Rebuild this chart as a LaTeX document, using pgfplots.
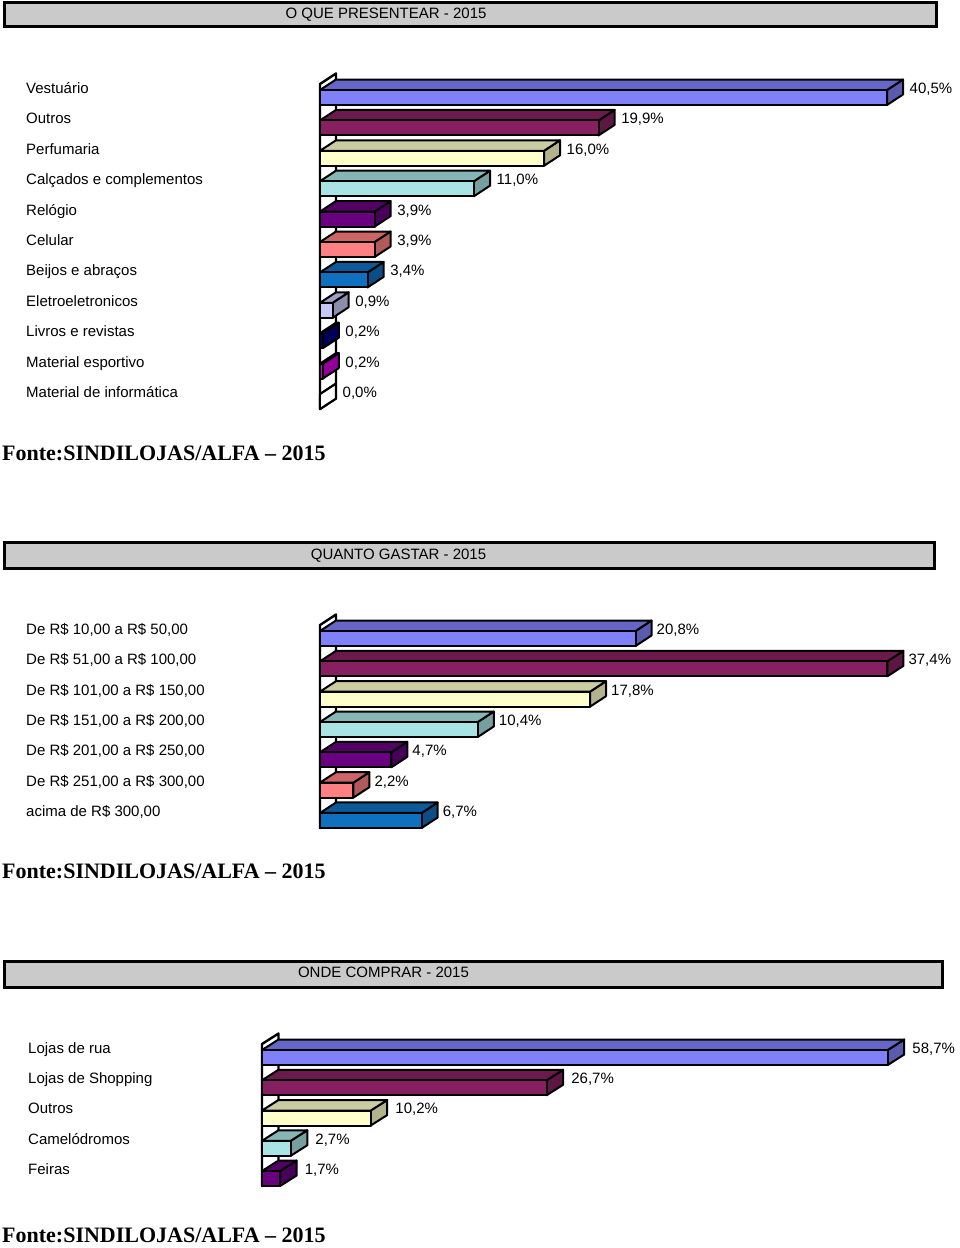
\documentclass[border=0pt]{standalone}
\usepackage{fontspec}
\setmainfont{Liberation Sans}
\newfontfamily\fontefont{Liberation Serif}
\usepackage{pgfplots}
\usepackage{pgfplotstable}
\pgfplotsset{compat=1.18}

\definecolor{titlegray}{HTML}{CACACA}
\definecolor{c0}{HTML}{8080F8}
\definecolor{c1}{HTML}{872060}
\definecolor{c2}{HTML}{FFFFCC}
\definecolor{c3}{HTML}{A8E4E4}
\definecolor{c4}{HTML}{680080}
\definecolor{c5}{HTML}{FF8080}
\definecolor{c6}{HTML}{1070C0}
\definecolor{c7}{HTML}{C8C8F5}
\definecolor{c8}{HTML}{000080}
\definecolor{c9}{HTML}{D000D8}
\definecolor{c10}{HTML}{FFFFFF}
\colorlet{t0}{c0!80!black}\colorlet{r0}{c0!70!black}
\colorlet{t1}{c1!80!black}\colorlet{r1}{c1!70!black}
\colorlet{t2}{c2!80!black}\colorlet{r2}{c2!70!black}
\colorlet{t3}{c3!80!black}\colorlet{r3}{c3!70!black}
\colorlet{t4}{c4!80!black}\colorlet{r4}{c4!70!black}
\colorlet{t5}{c5!80!black}\colorlet{r5}{c5!70!black}
\colorlet{t6}{c6!80!black}\colorlet{r6}{c6!70!black}
\colorlet{t7}{c7!80!black}\colorlet{r7}{c7!70!black}
\colorlet{t8}{c8!80!black}\colorlet{r8}{c8!70!black}
\colorlet{t9}{c9!80!black}\colorlet{r9}{c9!70!black}
\colorlet{t10}{white}\colorlet{r10}{white}

\newcommand\lbl{\fontsize{15}{18}\selectfont}

% data
\pgfplotstableread{
i v
0 40.5
1 19.9
2 16.0
3 11.0
4 3.9
5 3.9
6 3.4
7 0.9
8 0.2
9 0.2
10 0.0
}\tA
\pgfplotstableread{
i v
0 20.8
1 37.4
2 17.8
3 10.4
4 4.7
5 2.2
6 6.7
}\tB
\pgfplotstableread{
i v
0 58.7
1 26.7
2 10.2
3 2.7
4 1.7
}\tC

% unit faces of a 3-D bar (a: times value, b: times depth, s: top/bottom)
\pgfplotstableread{
a b s
0 0 -1
1 0 -1
1 1 -1
0 1 -1
}\faceTop
\pgfplotstableread{
a b s
1 0 1
1 0 -1
1 1 -1
1 1 1
}\faceRight
\pgfplotstableread{
a b s
0 0 1
1 0 1
1 0 -1
0 0 -1
}\faceFront
\pgfplotstableread{
b w
0 0
0 1
1 1
1 0
}\wallTab

\pgfplotsset{
  prism/.style={draw=black, line width=2pt, line join=round},
  chart3d/.style={
    clip=false, y dir=reverse, anchor=origin,
    axis line style={draw=none}, major tick length=0pt, tick style={draw=none},
    xtick=\empty,
    yticklabel style={anchor=base west, inner sep=0pt, font=\lbl, text=black, yshift=4.1pt},
  },
}

% #1 table, #2 last row, #3 depth x, #4 depth y, #5 half height
\newcommand\prisms[5]{%
  \pgfplotsinvokeforeach{0,...,#2}{%
    \pgfplotstablegetelem{##1}{v}\of{#1}%
    \edef\val{\pgfplotsretval}%
    \addplot[fill=r##1, prism] table[x expr={\thisrow{a}*\val+\thisrow{b}*(#3)}, y expr={##1+\thisrow{s}*(#5)+\thisrow{b}*(#4)}]{\faceRight} -- cycle;
    \addplot[fill=t##1, prism] table[x expr={\thisrow{a}*\val+\thisrow{b}*(#3)}, y expr={##1+\thisrow{s}*(#5)+\thisrow{b}*(#4)}]{\faceTop} -- cycle;
    \addplot[fill=c##1, prism] table[x expr={\thisrow{a}*\val+\thisrow{b}*(#3)}, y expr={##1+\thisrow{s}*(#5)+\thisrow{b}*(#4)}]{\faceFront} -- cycle;
  }}

% #1 table, #2 xshift
\newcommand\datalabels[2]{%
  \addplot[only marks, mark=*, mark size=0pt, mark options={draw=none,fill=none}, point meta=x,
    nodes near coords={\pgfmathprintnumber[fixed,fixed zerofill,precision=1,use comma,assume math mode=true]{\pgfplotspointmeta}\%},
    every node near coord/.append style={anchor=base west, inner sep=0pt, xshift=#2, yshift=4.1pt, text=black, font=\lbl}]
    table[x=v, y=i]{#1};}

\begin{document}
\begin{tikzpicture}
\path[use as bounding box] (0pt,0pt) rectangle (960pt,-1248pt);

% ---------- Chart 1 ----------
\draw[line width=3pt, fill=titlegray] (4pt,-2pt) rectangle (936pt,-26pt);
\node[anchor=base, inner sep=0pt, font=\lbl] at (386pt,-18.4pt) {O QUE PRESENTEAR - 2015};
\begin{axis}[chart3d, at={(320pt,-97.5pt)}, x=14pt, y=30.4pt,
  xmin=0, xmax=45, ymin=-0.8, ymax=10.6,
  ytick={0,...,10},
  yticklabels={Vestuário, Outros, Perfumaria, Calçados e complementos, Relógio, Celular, Beijos e abraços, Eletroeletronicos, Livros e revistas, Material esportivo, Material de informática},
  yticklabel style={xshift=-294pt}]
\addplot[fill=white, prism, line width=2.4pt] table[x expr={\thisrow{b}*1.1429}, y expr={10.2467+\thisrow{w}*(-10.691)+\thisrow{b}*(-0.3454)}]{\wallTab} -- cycle;
\prisms{\tA}{10}{1.1429}{-0.3454}{0.2467}
\datalabels{\tA}{22.5pt}
\end{axis}
\node[anchor=base west, inner sep=0pt, font={\fontefont\bfseries\fontsize{22}{26}\selectfont}] at (2pt,-460pt) {Fonte:SINDILOJAS/ALFA – 2015};

% ---------- Chart 2 ----------
\draw[line width=3pt, fill=titlegray] (4pt,-542pt) rectangle (934pt,-568pt);
\node[anchor=base, inner sep=0pt, font=\lbl] at (398.5pt,-559.4pt) {QUANTO GASTAR - 2015};
\begin{axis}[chart3d, at={(320pt,-638.5pt)}, x=15.17pt, y=30.33pt,
  xmin=0, xmax=42, ymin=-0.8, ymax=6.6,
  ytick={0,...,6},
  yticklabels={{De R\$ 10,00 a R\$ 50,00}, {De R\$ 51,00 a R\$ 100,00}, {De R\$ 101,00 a R\$ 150,00}, {De R\$ 151,00 a R\$ 200,00}, {De R\$ 201,00 a R\$ 250,00}, {De R\$ 251,00 a R\$ 300,00}, {acima de R\$ 300,00}},
  yticklabel style={xshift=-294pt}]
\addplot[fill=white, prism, line width=2.4pt] table[x expr={\thisrow{b}*1.0547}, y expr={6.2473+\thisrow{w}*(-6.692)+\thisrow{b}*(-0.3462)}]{\wallTab} -- cycle;
\prisms{\tB}{6}{1.0547}{-0.3462}{0.2473}
\datalabels{\tB}{21pt}
\end{axis}
\node[anchor=base west, inner sep=0pt, font={\fontefont\bfseries\fontsize{22}{26}\selectfont}] at (2pt,-878pt) {Fonte:SINDILOJAS/ALFA – 2015};

% ---------- Chart 3 ----------
\draw[line width=3pt, fill=titlegray] (4pt,-961pt) rectangle (942pt,-987pt);
\node[anchor=base, inner sep=0pt, font=\lbl] at (383.5pt,-977.4pt) {ONDE COMPRAR - 2015};
\begin{axis}[chart3d, at={(262pt,-1057.5pt)}, x=10.66pt, y=30.25pt,
  xmin=0, xmax=62, ymin=-0.8, ymax=4.6,
  ytick={0,...,4},
  yticklabels={Lojas de rua, Lojas de Shopping, Outros, Camelódromos, Feiras},
  yticklabel style={xshift=-234pt}]
\addplot[fill=white, prism, line width=2.4pt] table[x expr={\thisrow{b}*1.548}, y expr={4.2479+\thisrow{w}*(-4.694)+\thisrow{b}*(-0.3471)}]{\wallTab} -- cycle;
\prisms{\tC}{4}{1.548}{-0.3471}{0.2479}
\datalabels{\tC}{24.5pt}
\end{axis}
\node[anchor=base west, inner sep=0pt, font={\fontefont\bfseries\fontsize{22}{26}\selectfont}] at (2pt,-1242pt) {Fonte:SINDILOJAS/ALFA – 2015};
\end{tikzpicture}
\end{document}
